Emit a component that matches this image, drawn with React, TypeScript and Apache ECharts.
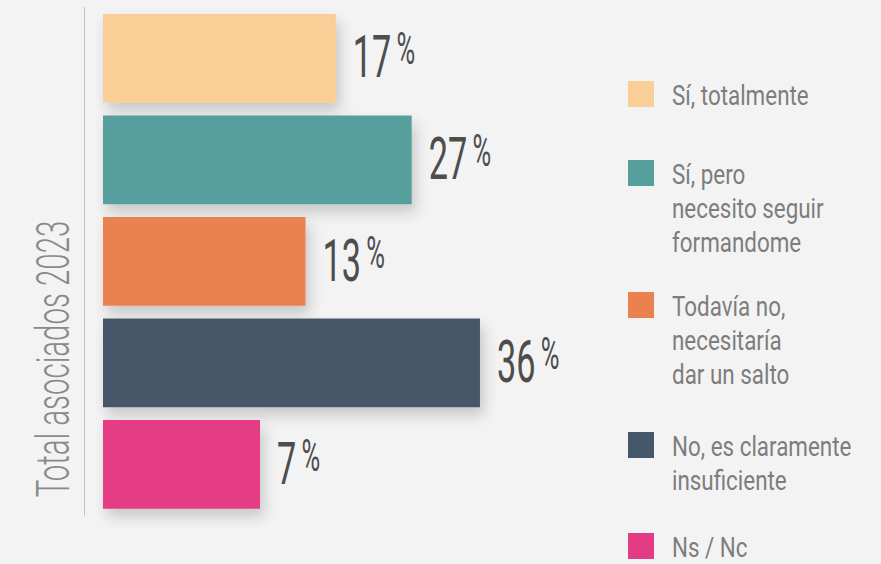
import React, { useEffect, useRef } from "react";
import * as echarts from "echarts";

// ---- data ----
const categories: string[] = [
  "Sí, totalmente",
  "Sí, pero\nnecesito seguir\nformandome",
  "Todavía no,\nnecesitaría\ndar un salto",
  "No, es claramente\ninsuficiente",
  "Ns / Nc",
];
const values: number[] = [17, 27, 13, 36, 7];
const colors: string[] = ["#F9CF97", "#569F9C", "#E9824F", "#465769", "#E43C84"];
const axisTitle = "Total asociados 2023";

// ---- layout / style ----
const AXIS_MIN = -13.7; // bars grow from the left edge of the plot
const AXIS_MAX = 60;
const FONT = "Roboto, 'Open Sans', sans-serif";
const legendTops = [81, 160, 292, 432, 533];

export default function App() {
  const ref = useRef<HTMLDivElement>(null);
  useEffect(() => {
    if (!ref.current) return;
    const chart = echarts.init(ref.current, null, { renderer: "svg" });

    const legendGraphics: any[] = [];
    categories.forEach((name, i) => {
      legendGraphics.push({
        type: "rect",
        x: 628,
        y: legendTops[i],
        shape: { x: 0, y: 0, width: 26, height: 26 },
        style: { fill: colors[i] },
      });
      legendGraphics.push({
        type: "text",
        x: 672,
        y: legendTops[i] - 3,
        scaleX: 0.8,
        style: {
          text: name,
          fontFamily: FONT,
          fontSize: 28,
          lineHeight: 34,
          fill: "#7d7d7d",
          align: "left",
          verticalAlign: "top",
        },
      });
    });

    const option: any = {
      animation: false,
      backgroundColor: "#f3f3f3",
      grid: { left: 103, right: 219, top: 7.5, bottom: 48.75 },
      xAxis: {
        type: "value",
        min: AXIS_MIN,
        max: AXIS_MAX,
        show: false,
      },
      yAxis: {
        type: "category",
        data: categories,
        inverse: true,
        offset: 19,
        axisLine: {
          show: true,
          onZero: false,
          lineStyle: { color: "#c2c2c2", width: 1 },
        },
        axisTick: { show: false },
        axisLabel: { show: false },
        splitLine: { show: false },
      },
      graphic: [
        {
          type: "text",
          x: 53,
          y: 359,
          rotation: Math.PI / 2,
          scaleX: 0.64,
          style: {
            text: axisTitle,
            fontFamily: FONT,
            fontWeight: 300,
            fontSize: 46,
            fill: "#8a8a8a",
            align: "center",
            verticalAlign: "middle",
          },
        },
        ...legendGraphics,
      ],
      series: [
        {
          type: "custom",
          data: values.map((v, i) => [i, v]),
          encode: { x: 1, y: 0 },
          renderItem: (params: any, api: any) => {
            const idx = api.value(0);
            const v = api.value(1);
            const start = api.coord([AXIS_MIN, idx]);
            const end = api.coord([v, idx]);
            const band = api.size([0, 1])[1];
            const h = band * 0.874;
            return {
              type: "group",
              children: [
                {
                  type: "rect",
                  shape: {
                    x: start[0],
                    y: start[1] - h / 2,
                    width: end[0] - start[0],
                    height: h,
                  },
                  style: {
                    fill: colors[idx],
                    shadowBlur: 14,
                    shadowColor: "rgba(0,0,0,0.18)",
                    shadowOffsetX: 4,
                    shadowOffsetY: 8,
                  },
                },
                {
                  type: "text",
                  x: end[0] + 17,
                  y: end[1] - 1,
                  scaleX: 0.58,
                  style: {
                    text: `{n|${v}}{p|%}`,
                    align: "left",
                    verticalAlign: "middle",
                    fill: "#4d4d4d",
                    fontFamily: FONT,
                    fontSize: 59,
                    rich: {
                      n: {
                        fontFamily: FONT,
                        fontSize: 59,
                        lineHeight: 59,
                        fill: "#4d4d4d",
                      },
                      p: {
                        fontFamily: FONT,
                        fontSize: 44,
                        lineHeight: 44,
                        fill: "#4d4d4d",
                        verticalAlign: "top",
                        padding: [0, 0, 0, 9],
                      },
                    },
                  },
                },
              ],
            };
          },
        },
      ],
    };
    chart.setOption(option);
    return () => chart.dispose();
  }, []);
  return (
    <div
      ref={ref}
      style={{ position: "fixed", left: 0, top: 0, width: 881, height: 564 }}
    />
  );
}
